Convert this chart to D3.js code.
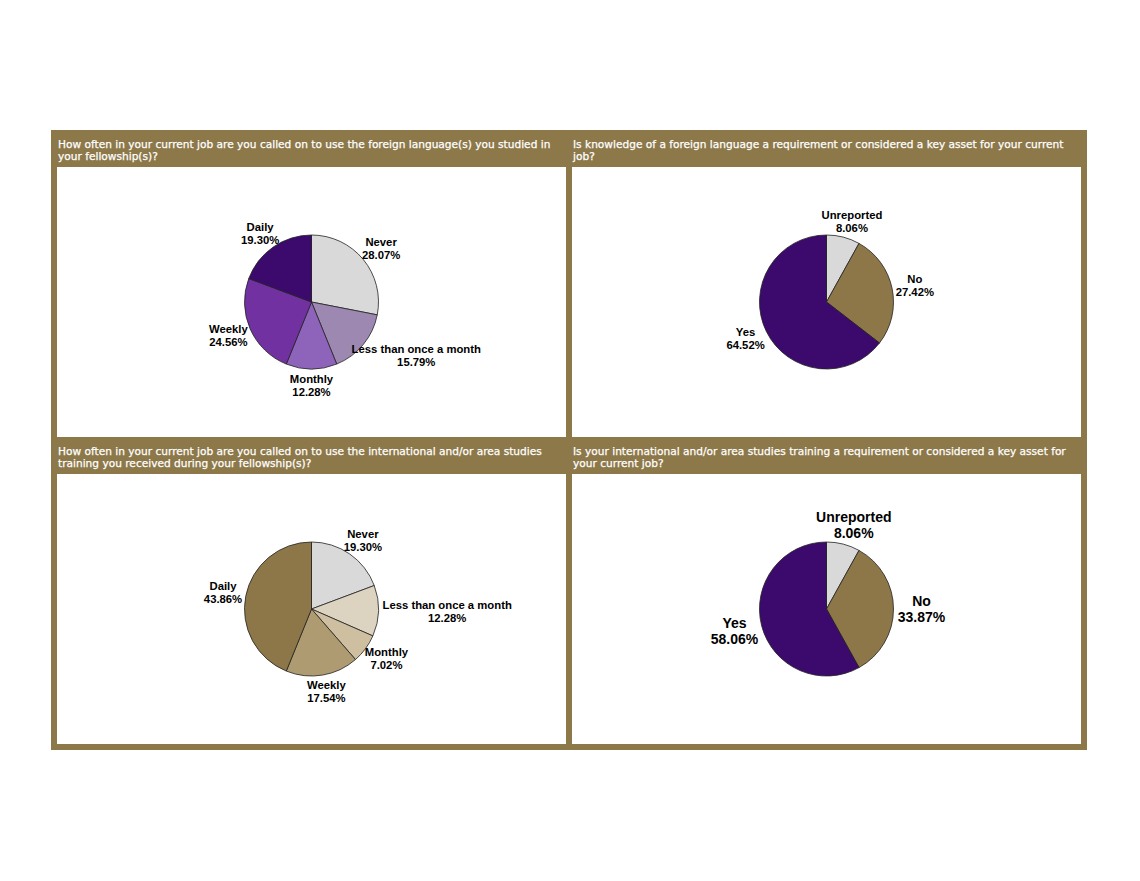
<!DOCTYPE html>
<html>
<head>
<meta charset="utf-8">
<script src="https://cdn.jsdelivr.net/npm/d3@7"></script>
<style>
body { margin: 0; background: #fff; }
</style>
</head>
<body>
<div id="chart"></div>
<script>
// survey answers, percent of respondents
var freqLabels = ["Never", "Less than once a month", "Monthly", "Weekly", "Daily"];
var langUseValues = [28.07, 15.79, 12.28, 24.56, 19.30];
var areaUseValues = [19.30, 12.28, 7.02, 17.54, 43.86];

var assetLabels = ["Unreported", "No", "Yes"];
var langAssetValues = [8.06, 27.42, 64.52];
var areaAssetValues = [8.06, 33.87, 58.06];

var titleLangUse = ["How often in your current job are you called on to use the foreign language(s) you studied in", "your fellowship(s)?"];
var titleLangAsset = ["Is knowledge of a foreign language a requirement or considered a key asset for your current", "job?"];
var titleAreaUse = ["How often in your current job are you called on to use the international and/or area studies", "training you received during your fellowship(s)?"];
var titleAreaAsset = ["Is your international and/or area studies training a requirement or considered a key asset for", "your current job?"];

var purpleShades = ["#d9d9d9", "#9c88b0", "#8e64bb", "#7131a1", "#3b0a6c"];
var tanShades = ["#d9d9d9", "#ddd3c1", "#cdbf9f", "#ae9b72", "#8d7748"];
var assetColors = ["#d9d9d9", "#8d7748", "#3b0a6c"];

var W = 1140, H = 881;
var frameX = 51, frameY = 130, frameW = 1036, frameH = 620;
var border = 6, bandH = 37;
var panelW = (frameW - 3 * border) / 2;
var rowH = (frameH - border) / 2;
var radius = 67;

var charts = [
    {title: titleLangUse, labels: freqLabels, values: langUseValues, colors: purpleShades, fs: 11.3, col: 0, row: 0},
    {title: titleLangAsset, labels: assetLabels, values: langAssetValues, colors: assetColors, fs: 11.3, col: 1, row: 0},
    {title: titleAreaUse, labels: freqLabels, values: areaUseValues, colors: tanShades, fs: 11.3, col: 0, row: 1},
    {title: titleAreaAsset, labels: assetLabels, values: areaAssetValues, colors: assetColors, fs: 14, col: 1, row: 1}
];

var svg = d3.select("#chart").append("svg")
    .attr("width", W)
    .attr("height", H);

svg.append("rect")
    .attr("x", frameX)
    .attr("y", frameY)
    .attr("width", frameW)
    .attr("height", frameH)
    .attr("fill", "#8d7849");

var pie = d3.pie().sort(null).value(function(d) { return d; });
var arc = d3.arc().innerRadius(0).outerRadius(radius);

charts.forEach(function(c) {
    var px = frameX + border + c.col * (panelW + border);
    var py = frameY + c.row * rowH;

    // title band text
    var title = svg.append("text")
        .attr("x", px + 1)
        .attr("y", py + 18)
        .attr("fill", "#fff")
        .attr("stroke", "#fff")
        .attr("stroke-width", 0.25)
        .style("font-family", "'DejaVu Sans', Verdana, sans-serif")
        .style("font-size", "10.6px");
    c.title.forEach(function(line, i) {
        title.append("tspan")
            .attr("x", px + 1)
            .attr("dy", i == 0 ? 0 : 12)
            .text(line);
    });

    var panelY = py + bandH;
    var panelH = rowH - bandH;
    svg.append("rect")
        .attr("x", px)
        .attr("y", panelY)
        .attr("width", panelW)
        .attr("height", panelH)
        .attr("fill", "#fff");

    var cx = px + panelW / 2;
    var cy = panelY + panelH / 2;
    var g = svg.append("g").attr("transform", "translate(" + cx + "," + cy + ")");

    var slices = pie(c.values);

    g.selectAll("path")
        .data(slices)
        .enter()
        .append("path")
        .attr("d", arc)
        .attr("fill", function(d, i) { return c.colors[i]; })
        .attr("stroke", "#222")
        .attr("stroke-width", 0.8);

    slices.forEach(function(d, i) {
        var a = (d.startAngle + d.endAngle) / 2;
        var sx = Math.sin(a), sy = -Math.cos(a);
        var t = g.append("text")
            .attr("text-anchor", "middle")
            .attr("fill", "#000")
            .style("font-family", "'Liberation Sans', Arial, sans-serif")
            .style("font-weight", "bold")
            .style("font-size", c.fs + "px");
        t.append("tspan").attr("x", 0).text(c.labels[i]);
        t.append("tspan").attr("x", 0).attr("dy", c.fs * 1.15).text(d.data.toFixed(2) + "%");

        // push the label box out from the slice middle until it clears the rim
        var bb = t.node().getBBox();
        var gap = 4;
        var lx = (radius + gap) * sx + sx * bb.width / 2;
        var ly = (radius + gap) * sy + sy * bb.height / 2;
        t.attr("transform", "translate(" + lx + "," + (ly - bb.y - bb.height / 2) + ")");
    });
});
</script>
</body>
</html>
